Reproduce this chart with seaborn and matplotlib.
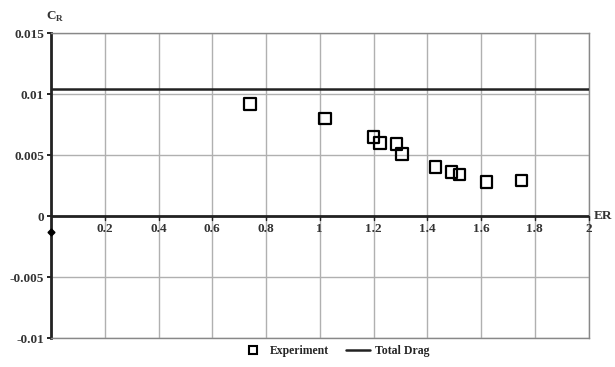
import matplotlib
matplotlib.use("Agg")
import matplotlib.pyplot as plt
import seaborn as sns
import pandas as pd
from matplotlib.lines import Line2D

er_exp = [0.74, 1.02, 1.20, 1.225, 1.285, 1.305, 1.43, 1.49, 1.52, 1.62, 1.75]
cr_exp = [0.0092, 0.0080, 0.0065, 0.0060, 0.0059, 0.0051, 0.0040, 0.0036, 0.0034, 0.0028, 0.0029]
er_total = [0.0, 2.0]
cr_total = [0.0104, 0.0104]
x_ticks = [0.2, 0.4, 0.6, 0.8, 1.0, 1.2, 1.4, 1.6, 1.8, 2.0]
x_labels = ["0.2", "0.4", "0.6", "0.8", "1", "1.2", "1.4", "1.6", "1.8", "2"]
y_ticks = [-0.01, -0.005, 0, 0.005, 0.01, 0.015]
y_labels = ["-0.01", "-0.005", "0", "0.005", "0.01", "0.015"]

sns.set_theme(style="white")
plt.rcParams['font.family'] = ['Liberation Serif', 'DejaVu Serif']

fig = plt.figure(figsize=(6.15, 3.67), dpi=100)
ax = fig.add_axes([0.083, 0.079, 0.874, 0.831])

df = pd.DataFrame({"ER": er_exp, "CR": cr_exp})
dt = pd.DataFrame({"ER": er_total, "CR": cr_total})

sns.lineplot(data=dt, x="ER", y="CR", ax=ax, color="#222222", linewidth=1.8, zorder=3)
sns.scatterplot(data=df, x="ER", y="CR", ax=ax, marker="s", s=70,
                facecolor="none", edgecolor="black", linewidth=1.6, zorder=4)

ax.set_xlim(0, 2)
ax.set_ylim(-0.01, 0.015)
ax.set_xticks([0.2 * i for i in range(11)])
ax.set_yticks(y_ticks)
ax.set_yticklabels(y_labels, fontsize=9.5, fontweight="bold", color="#333333")
ax.tick_params(axis="y", length=3, width=1.2, color="black", pad=2, left=True)
ax.tick_params(axis="x", bottom=False, labelbottom=False)
ax.grid(True, color="#b0b0b0", linewidth=1.0)
ax.set_xlabel("")
ax.set_ylabel("")

for s in ["top", "right", "bottom"]:
    ax.spines[s].set_color("#888888")
    ax.spines[s].set_linewidth(1.0)
ax.spines["left"].set_color("#222222")
ax.spines["left"].set_linewidth(2.0)

# x-axis at zero
ax.axhline(0, color="#222222", linewidth=2.0, zorder=3)
for xt, xl in zip(x_ticks, x_labels):
    ax.plot([xt, xt], [0, -0.0003], color="#222222", linewidth=1.0, zorder=3, clip_on=False)
    ax.text(xt, -0.0006, xl, ha="center", va="top", fontsize=9.5, fontweight="bold", color="#333333")
ax.plot([0], [-0.0013], marker="D", markersize=3.5, color="black", clip_on=False, zorder=5)

ax.text(2.02, 0, "ER", ha="left", va="center", fontsize=9.5, fontweight="bold", color="#333333")
ax.text(-0.02, 0.0157, "C$_{\\mathregular{R}}$", ha="left", va="bottom", fontsize=9.5,
        fontweight="bold", color="#333333", transform=ax.transData, clip_on=False)

handles = [
    Line2D([], [], marker="s", linestyle="none", markerfacecolor="none",
           markeredgecolor="black", markeredgewidth=1.5, markersize=6),
    Line2D([], [], color="#222222", linewidth=1.8),
]
fig.legend(handles, ["Experiment", "Total Drag"], loc="center", bbox_to_anchor=(0.545, 0.043),
           ncol=2, frameon=False, prop={"size": 8.5, "weight": "bold"}, handlelength=2.0,
           columnspacing=1.5, handletextpad=0.4)

fig.savefig("out.png", dpi=100)
